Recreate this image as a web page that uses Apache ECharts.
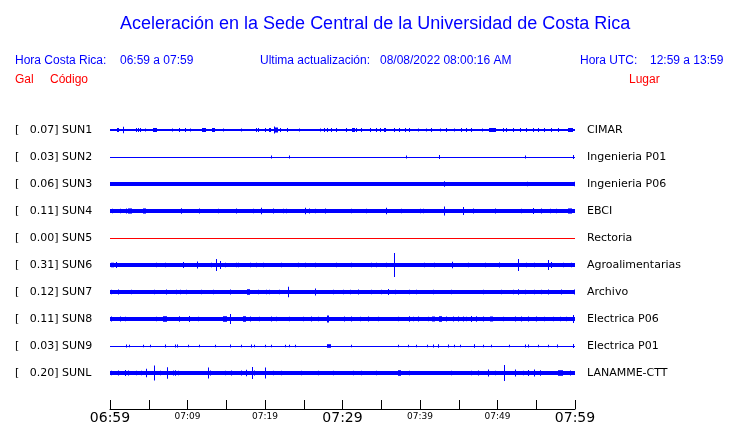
<!DOCTYPE html>
<html><head><meta charset="utf-8">
<script src="https://cdn.jsdelivr.net/npm/echarts@6/dist/echarts.min.js"></script>
<style>html,body{margin:0;padding:0;background:#fff;overflow:hidden}#c{width:740px;height:423px}</style>
</head><body><div id="c"></div><script>
// ---- data ----
const stations = ['SUN1','SUN2','SUN3','SUN4','SUN5','SUN6','SUN7','SUN8','SUN9','SUNL'];
const peaks = ['0.07','0.03','0.06','0.11','0.00','0.31','0.12','0.11','0.03','0.20'];
const places = ['CIMAR','Ingenieria P01','Ingenieria P06','EBCI','Rectoria','Agroalimentarias','Archivo','Electrica P06','Electrica P01','LANAMME-CTT'];
const traceColors = ['#0000ff','#0000ff','#0000ff','#0000ff','#ff0000','#0000ff','#0000ff','#0000ff','#0000ff','#0000ff'];
// background noise half-amplitude (display units) per trace
const bandHalf = [0.7,0.4,2.0,2.0,0.5,1.7,1.8,2.0,0.5,1.8];
// minutes after 06:59 -> tick labels
const majorLabels = {0:'06:59',30:'07:29',60:'07:59'};
const minorLabels = {10:'07:09',20:'07:19',40:'07:39',50:'07:49'};
// bursts: [minute, half-amplitude, duration(min, optional)]
const sun1 = [[0.99,2,0.3],[1.72,3.2],[3.44,2],[3.66,2],[3.96,2],[4.52,1.5],[5.81,2,0.4],[8.09,1.5],[8.9,2],[9.68,2],[10.32,1.5],[12.04,2,0.3],[12.26,2,0.3],[13.33,2,0.4],[14.62,1.5],[16.99,1.5],[18.92,2],[19.14,2],[20.0,2],[20.65,2,0.3],[21.2,3.5],[21.5,2.5,0.3],[21.94,2],[22.9,2],[24.43,1.5],[27.1,1.5],[27.66,2],[28.08,2],[28.6,2],[29.25,2],[30.5,2],[31.4,2,0.3],[31.8,2],[32.5,2],[33.55,2],[34.4,2],[34.84,2],[35.5,2,0.3],[36.7,2],[37.4,2],[38.1,2],[38.7,2],[39.8,1.5],[40.86,1.5],[41.5,2],[42.6,1.5],[43.4,2],[44.5,1.5],[45.4,2],[46.0,2],[46.7,2],[48.0,1.5],[49.3,2,0.9],[50.75,2],[51.2,2],[52.0,2],[52.9,2],[53.8,2],[54.6,2],[55.3,2],[56.1,2],[57.0,2],[57.85,2],[59.4,2,0.6]];
const sun2 = [[20.86,1.5],[23.2,1.5],[38.3,1.5],[42.5,2],[53.6,1.5],[59.8,2]];
const sun3 = [[43.1,2.8],[53.9,2.3],[59.9,2.3]];
const sun4 = [[0.3,2.3],[1.29,2.3],[2.15,2.6],[2.58,2.6,0.4],[4.43,2.6,0.4],[9.25,2.8],[11.48,2.6],[13.98,2.3],[16.34,2.6],[18.5,2.3],[19.57,3.2],[21.07,2.6],[22.36,2.3],[22.8,2.3],[25.25,3.2],[25.8,2.6],[26.45,2.3],[27.74,2.6],[31.2,2.3],[33.1,2.3],[35.7,3.2],[37.6,2.3],[40.0,2.3],[40.43,2.3],[43.1,4.5],[45.6,4],[46.9,2.6],[49.7,2.6],[53.1,2.3],[54.6,3],[55.7,2.6],[56.8,2.3],[57.6,2.3],[59.4,2.6,0.5]];
const sun5 = [];
const sun6 = [[0.3,2.3,0.4],[0.86,3],[2.8,2],[6.02,2.3],[7.1,2.3],[9.46,3],[11.31,3.5],[13.12,2.3],[13.68,6],[14.19,4],[14.84,2.3],[16.34,2.3],[16.56,2.3],[18.06,2.3],[18.92,2.3],[19.78,2.3],[22.15,2.3],[24.3,2.3],[25.16,2.3],[26.45,2.3],[29.25,2.3],[31.2,2.3],[33.8,2.3],[34.4,2.3],[35.7,2.3],[36.7,12],[40.6,2.3],[41.9,2.3],[44.2,3.2],[46.2,2.3],[48.4,2.3],[50.3,2.5],[52.7,6],[53.8,2.3],[54.8,2.3],[56.6,5],[57.0,3],[58.5,2.3],[59.6,2.3]];
const sun7 = [[0.21,2.3],[1.07,2.5],[2.8,2.3],[5.72,2.3],[7.3,2.5],[8.6,2.3],[9.03,2.3],[9.9,2.3],[11.83,2.3],[13.33,2.3],[15.6,2.5],[17.85,2.8,0.4],[19.14,2.3],[20.2,2.3],[20.64,2.3],[21.9,2.3],[23.0,5.3],[26.5,3.5],[28.8,2.3],[30.1,2.3],[30.97,2.3],[32.1,2.5],[33.8,2.3],[35.05,2.3],[35.9,3],[36.8,2.3],[38.7,2.3],[39.6,2.3],[41.7,2.3],[44.1,2.3],[48.2,2.3],[50.5,2.3],[52.0,2.3],[52.7,2.8],[53.55,2.3],[54.8,2.3],[55.7,2.3],[56.6,2.5],[58.3,2.5],[59.9,2.5]];
const sun8 = [[0.13,2.5],[1.29,2.5],[2.02,2.3],[6.02,2.3],[7.1,2.8,0.4],[8.9,2.8],[10.3,3],[11.4,2.3],[14.84,2.8,0.4],[15.5,5],[17.4,2.8,0.4],[18.06,2.5],[19.35,2.3],[20.86,2.5],[21.5,2.3],[23.2,2.3],[24.95,2.3],[26.0,2.5],[26.9,2.3],[28.17,3.5,0.3],[30.3,2.5],[31.2,2.5],[32.26,2.3],[33.3,2.5],[34.6,2.3],[37.2,2.3],[38.6,2.8],[39.1,2.3],[39.8,2.5],[41.1,2.3],[41.7,2.5,0.4],[42.6,2.8,0.4],[43.4,2.5],[44.3,2.5],[44.95,2.5],[45.6,2.5],[46.0,2.3],[46.7,3],[47.3,2.8],[48.2,2.5],[49.25,2.5,0.4],[50.75,2.3],[52.3,2.5],[53.1,2.5],[54.0,2.5],[55.05,2.5],[56.1,2.3],[57.2,2.3],[58.1,2.3],[58.9,2.3],[59.8,4]];
const sun9 = [[2.15,1.5],[2.45,1.3],[4.3,1.3],[5.16,1.3],[7.1,1.5],[8.47,1.5],[8.73,1.5],[10.1,1.3],[11.6,1.3],[13.55,1.3],[15.5,1.5],[17.0,1.3],[18.3,1.5],[18.7,1.3],[20.0,1.3],[20.86,1.3],[22.6,1.3],[23.2,1.3],[23.9,1.3],[28.26,1.8,0.6],[31.1,1.3],[37.2,1.3],[38.5,1.3],[39.6,1.3],[41.0,1.3],[41.7,1.5],[42.4,1.8],[43.66,1.5],[44.4,1.3],[45.16,1.3],[47.0,1.8],[48.2,1.3],[49.25,1.3],[51.5,1.3],[53.6,1.5],[54.0,1.5],[55.3,1.3],[56.6,1.3],[57.8,1.5],[59.8,2]];
const sunL = [[0.21,2.3],[1.07,2.5],[2.02,3],[2.37,2.5],[3.44,2.3],[4.09,2.3],[4.65,4.3],[5.72,7.5],[6.45,2.3],[7.4,5.7],[8.17,2.5],[8.5,2.8],[8.8,2.3],[12.69,5.5],[12.9,2.5],[14.84,2.3],[15.7,2.5],[17.0,2.5],[17.63,3.2],[18.36,6],[18.7,2.5],[20.0,5.5],[21.07,2.3],[22.15,2.3],[24.73,2.3],[26.88,2.3],[28.82,2.3],[31.4,2.3],[32.47,2.3],[34.4,2.3],[37.4,2.8,0.4],[38.7,2.3],[44.1,2.3],[46.67,2.3],[47.5,2.5],[48.8,3.5],[49.8,2.3],[50.9,8],[52.35,3.5],[53.3,2.3],[54.0,3],[54.75,3.5],[55.5,2.8],[58.1,2.8,0.6],[59.4,2.5]];
const bursts = [sun1,sun2,sun3,sun4,sun5,sun6,sun7,sun8,sun9,sunL];

// ---- chart ----
const ROW = 27, TSPAN = 60, DEF_DUR = 0.12;
const FONT = 'DejaVu Sans';
const HFONT = 'Liberation Sans';
function renderItem(color){
  return function(params, api){
    const t0 = api.value(0), t1 = api.value(1), yc = api.value(2), a = api.value(3);
    const p0 = api.coord([t0, yc]), p1 = api.coord([t1, yc]);
    const h = Math.abs(api.size([0, a])[1]);
    const x0 = Math.round(p0[0]), x1 = Math.max(x0 + 1, Math.round(p1[0]));
    let y0, ht;
    if (params.dataIndex === 0) { // background band: crisp pixels
      y0 = Math.round(p0[1] - h); ht = Math.max(1, Math.round(p0[1] + h) - y0);
    } else { y0 = p0[1] - h; ht = 2 * h; }
    return {type:'rect', shape:{x:x0, y:y0, width:x1 - x0, height:ht},
      style:{fill:color, stroke:null, lineWidth:0}};
  };
}
const series = stations.map((s,i)=>{
  const yc = (i+1)*ROW;
  const data = [[0, TSPAN, yc, bandHalf[i]]].concat(bursts[i].map(b=>{
    const d = b[2] || DEF_DUR;
    return [b[0]-d/2, b[0]+d/2, yc, b[1]];
  }));
  return {type:'custom', name:s, coordinateSystem:'cartesian2d', clip:false,
    itemStyle:{color:traceColors[i]}, color:traceColors[i],
    encode:{x:[0,1], y:2}, data, renderItem:renderItem(traceColors[i]), silent:true, animation:false};
});
function yLab(side){
  return {type:'value', position:side, inverse:true, min:0, max:306, interval:ROW,
    axisLine:{show:false}, axisTick:{show:false}, splitLine:{show:false},
    axisLabel:{show:true, showMaxLabel:false, showMinLabel:false, align:'left', margin: side==='left'?95:12,
      color:'#000', fontFamily:FONT, fontSize:11,
      formatter:v=>{const i=Math.round(v/ROW)-1; if(i<0||i>9) return '';
        return side==='left' ? '[   '+peaks[i]+'] '+stations[i] : places[i];}}};
}
const hdr = (text, x, y, color, size) => ({type:'text', left:x, top:y,
  style:{text, fill:color, font: size+'px "'+HFONT+'"'}});
const chart = echarts.init(document.getElementById('c'), null, {renderer:'canvas', width:740, height:423});
chart.setOption({
  animation:false,
  backgroundColor:'#fff',
  title:{text:'Aceleración en la Sede Central de la Universidad de Costa Rica', left:115, top:10,
    textStyle:{color:'#0000ff', fontFamily:HFONT, fontSize:18, fontWeight:'normal'}},
  graphic:[
    hdr('Hora Costa Rica:', 15, 55, '#0000ff', 12),
    hdr('06:59 a 07:59', 120, 55, '#0000ff', 12),
    hdr('Ultima actualización:', 260, 55, '#0000ff', 12),
    hdr('08/08/2022 08:00:16 AM', 380, 55, '#0000ff', 12),
    hdr('Hora UTC:', 580, 55, '#0000ff', 12),
    hdr('12:59 a 13:59', 650, 55, '#0000ff', 12),
    hdr('Gal', 15, 74, '#ff0000', 12),
    hdr('Código', 50, 74, '#ff0000', 12),
    hdr('Lugar', 629, 74, '#ff0000', 12)
  ],
  grid:{left:110, right:165, top:103, bottom:14, containLabel:false, outerBoundsMode:'none'},
  xAxis:{type:'value', position:'bottom', min:0, max:TSPAN, interval:5,
    axisLine:{show:true, onZero:false, lineStyle:{color:'#000', width:1}},
    axisTick:{show:true, inside:true, length:9, lineStyle:{color:'#000', width:1}},
    splitLine:{show:false},
    axisLabel:{show:true, margin:2, showMinLabel:true, showMaxLabel:true, verticalAlign:'top',
      formatter:v=>{ if(majorLabels[v]) return '{b|'+majorLabels[v]+'}'; if(minorLabels[v]) return '{s|'+minorLabels[v]+'}'; return ''; },
      rich:{b:{fontFamily:FONT, fontSize:14, color:'#000', verticalAlign:'top'}, s:{fontFamily:FONT, fontSize:9, color:'#000', verticalAlign:'top', padding:[1,0,0,0]}}}},
  yAxis:[yLab('left'), yLab('right')],
  series
});
</script></body></html>
